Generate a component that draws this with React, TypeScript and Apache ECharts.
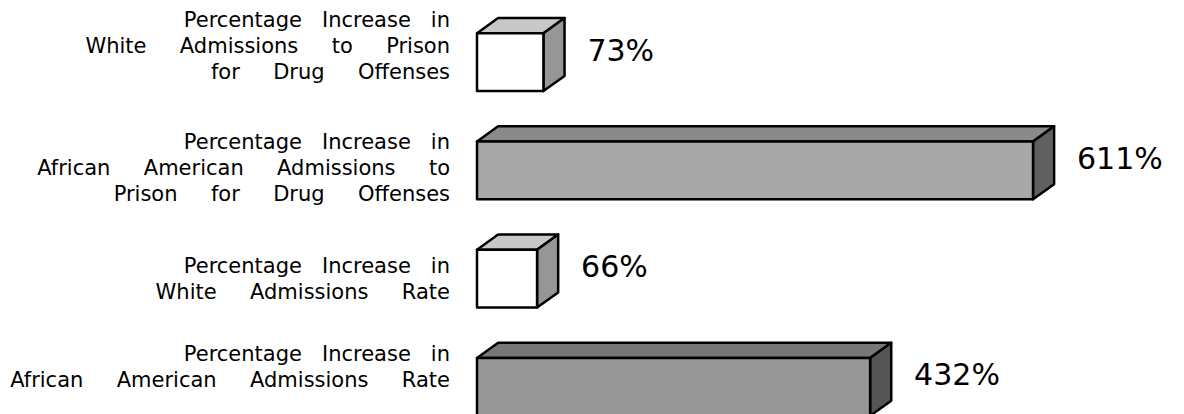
import React, { useEffect, useRef } from 'react';
import * as echarts from 'echarts';

const categories = [
  'Percentage Increase in\nWhite Admissions to Prison\nfor Drug Offenses',
  'Percentage Increase in\nAfrican American Admissions to\nPrison for Drug Offenses',
  'Percentage Increase in\nWhite Admissions Rate',
  'Percentage Increase in\nAfrican American Admissions Rate',
];
const values = [73, 611, 66, 432];

const frontColors = ['#ffffff', '#a8a8a8', '#ffffff', '#969696'];
const topColors = ['#c8c8c8', '#8a8a8a', '#c8c8c8', '#777777'];
const sideColors = ['#969696', '#606060', '#969696', '#555555'];
const labelLift = [16, 2, 0, 20];
const FONT = '"DejaVu Sans", Verdana, sans-serif';

export default function App() {
  const ref = useRef<HTMLDivElement>(null);
  useEffect(() => {
    if (!ref.current) return;
    const chart = echarts.init(ref.current, undefined, { renderer: 'svg' });
    const rich: any = {
      t: { fontSize: 21, lineHeight: 26, fontFamily: FONT, color: '#000', align: 'right' },
    };
    labelLift.forEach((l, i) => {
      rich['g' + i] = { fontSize: 2, lineHeight: Math.max(1, l * 2), align: 'right' };
    });
    chart.setOption({
      animation: false,
      backgroundColor: '#ffffff',
      grid: {
        left: 477,
        right: 70,
        top: 8,
        height: 433,
        containLabel: false,
        outerBoundsMode: 'none',
      },
      xAxis: { type: 'value', min: 0, max: 700, show: false },
      yAxis: {
        type: 'category',
        inverse: true,
        data: categories,
        axisLine: { show: false },
        axisTick: { show: false },
        splitLine: { show: false },
        axisLabel: {
          margin: 27,
          align: 'right',
          fontFamily: FONT,
          fontSize: 21,
          lineHeight: 26,
          color: '#000',
          rich,
          formatter: (val: string, idx: number) => {
            const lines = val
              .split('\n')
              .map((ln, li) => '{t|' + ln.split(' ').join(li === 0 ? '   ' : '     ') + '}');
            const lift = labelLift[idx] || 0;
            if (lift > 0) lines.push('{g' + idx + '| }');
            return lines.join('\n');
          },
        },
      },
      series: [
        {
          type: 'custom',
          clip: false,
          data: values.map((v, i) => [v, i]),
          encode: { x: 0, y: 1 },
          renderItem: (params: any, api: any) => {
            const idx = params.dataIndex;
            const v = api.value(0);
            const cat = api.value(1);
            const p0 = api.coord([0, cat]);
            const p1 = api.coord([v, cat]);
            const band = api.size([0, 1])[1];
            const h = band * 0.535;
            const dx = band * 0.195;
            const dy = band * 0.14;
            const x0 = p0[0];
            const x1 = p1[0];
            const yc = p0[1];
            const yt = yc - h / 2;
            const yb = yc + h / 2;
            const edge = { stroke: '#000', lineWidth: 2.5, lineJoin: 'round' };
            return {
              type: 'group',
              children: [
                {
                  type: 'polygon',
                  shape: { points: [[x0, yt], [x0 + dx, yt - dy], [x1 + dx, yt - dy], [x1, yt]] },
                  style: { fill: topColors[idx], ...edge },
                },
                {
                  type: 'polygon',
                  shape: { points: [[x1, yt], [x1 + dx, yt - dy], [x1 + dx, yb - dy], [x1, yb]] },
                  style: { fill: sideColors[idx], ...edge },
                },
                {
                  type: 'rect',
                  shape: { x: x0, y: yt, width: x1 - x0, height: h },
                  style: { fill: frontColors[idx], ...edge },
                },
                {
                  type: 'text',
                  x: x1 + 44,
                  y: yc - 12,
                  style: {
                    text: v + '%',
                    fill: '#000',
                    fontSize: 30,
                    fontFamily: FONT,
                    align: 'left',
                    verticalAlign: 'middle',
                  },
                },
              ],
            };
          },
        },
      ],
    });
    return () => chart.dispose();
  }, []);
  return (
    <div
      ref={ref}
      style={{ position: 'fixed', left: 0, top: 0, width: 1184, height: 414, background: '#fff' }}
    />
  );
}
